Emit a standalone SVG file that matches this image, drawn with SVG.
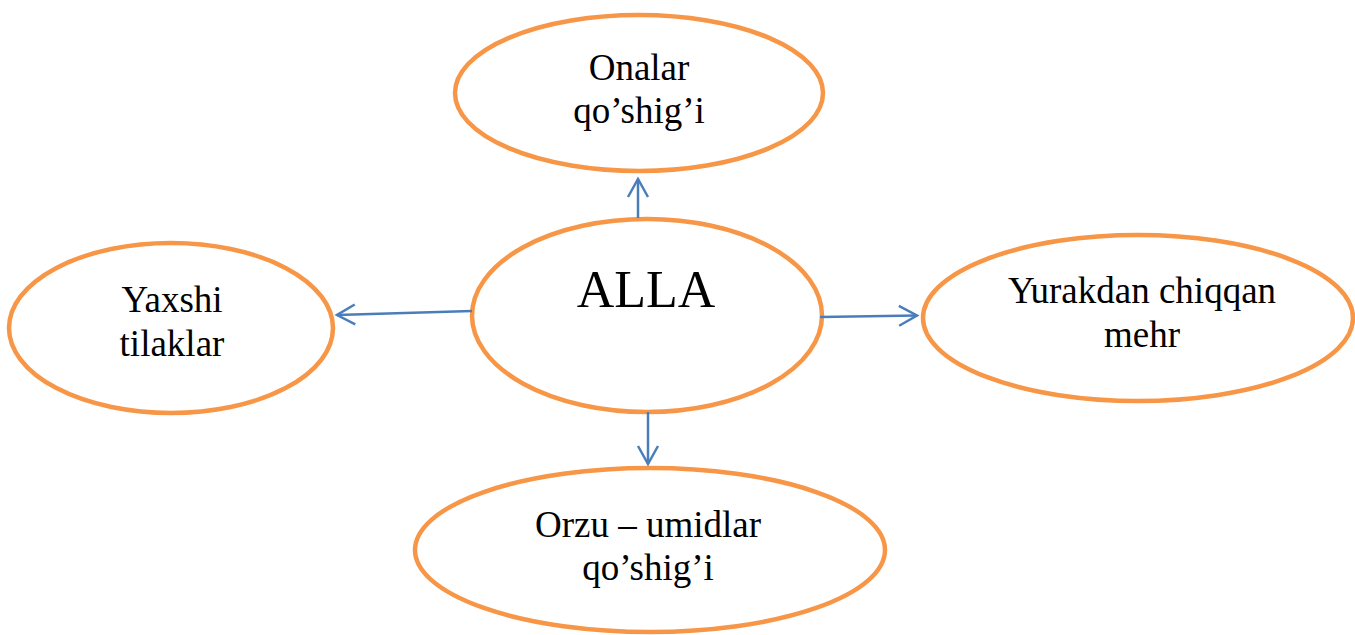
<svg xmlns="http://www.w3.org/2000/svg" width="1355" height="635" viewBox="0 0 1355 635">
<style>
.node ellipse{fill:#ffffff;stroke:#F79646;stroke-width:4.5}
.node text{font-family:"Liberation Serif","Times New Roman",serif;font-size:37px;fill:#000;text-anchor:middle}
.conn line{stroke:#4A7EBB;stroke-width:2.5;fill:none}
</style>
<defs>
<marker id="arr" markerUnits="userSpaceOnUse" viewBox="-22 -13 26 26" markerWidth="26" markerHeight="26" refX="0" refY="0" orient="auto">
<path d="M -18 -10 L 0 0 L -18 10" fill="none" stroke="#4A7EBB" stroke-width="2.5"/>
</marker>
</defs>
<rect width="1355" height="635" fill="#ffffff"/>
<g id="node-top" class="node">
<ellipse cx="639" cy="93" rx="184" ry="78"/>
<text x="639" y="80">Onalar</text>
<text x="639" y="123">qo’shig’i</text>
</g>
<g id="node-left" class="node">
<ellipse cx="171" cy="328" rx="162" ry="85"/>
<text x="172" y="312">Yaxshi</text>
<text x="172" y="356">tilaklar</text>
</g>
<g id="node-right" class="node">
<ellipse cx="1138" cy="318" rx="215" ry="83"/>
<text x="1142" y="303">Yurakdan chiqqan</text>
<text x="1142" y="347">mehr</text>
</g>
<g id="node-bottom" class="node">
<ellipse cx="650" cy="550" rx="235" ry="82"/>
<text x="648" y="537">Orzu – umidlar</text>
<text x="648" y="580">qo’shig’i</text>
</g>
<g id="node-center" class="node">
<ellipse cx="647" cy="315.5" rx="175" ry="96.5"/>
<text x="646" y="307" style="font-size:52px">ALLA</text>
</g>
<g id="connectors" class="conn">
<line x1="638" y1="218" x2="638" y2="179" marker-end="url(#arr)"/>
<line x1="472" y1="311" x2="337" y2="315" marker-end="url(#arr)"/>
<line x1="820" y1="317" x2="917" y2="315.5" marker-end="url(#arr)"/>
<line x1="648" y1="412" x2="648" y2="464" marker-end="url(#arr)"/>
</g>
</svg>
